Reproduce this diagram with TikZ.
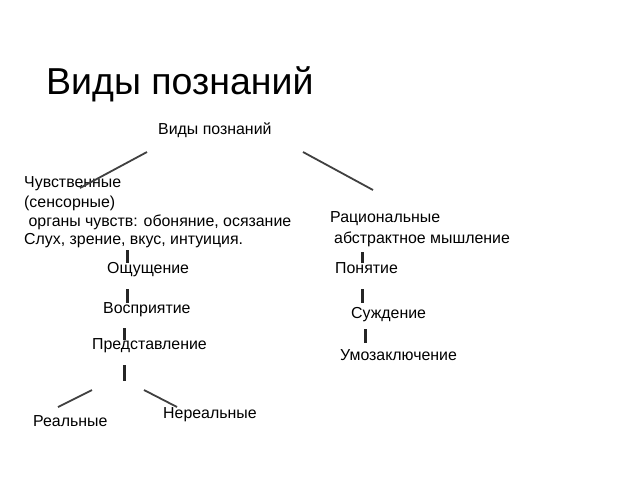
\documentclass[tikz,border=0pt]{standalone}
\usepackage{fontspec}
\setmainfont{Liberation Sans}
\begin{document}
\begin{tikzpicture}[x=1pt,y=-1pt,
  lbl/.style={anchor=west,inner sep=0pt,font=\fontsize{15.9}{18}\selectfont,text=black},
  ttl/.style={anchor=west,inner sep=0pt,font=\fontsize{37.5}{42}\selectfont,text=black},
  branch/.style={draw=black!75,line width=1.8pt},
  tick/.style={draw=black!85,line width=3pt}]
\useasboundingbox (0,0) rectangle (640,480);
\fill[white] (0,0) rectangle (640,480);
% title
\node[ttl] (title) at (46,84) {Виды познаний};
\node[lbl] (root) at (158,130) {Виды познаний};
% left branch
\node[lbl] (l1) at (24,184) {Чувственные};
\node[lbl] (l2) at (24,203) {(сенсорные)};
\node[lbl] (l3) at (24,222) {\ органы чувств: обоняние, осязание};
\node[lbl] (l4) at (24,241) {Слух, зрение, вкус, интуиция.};
\node[lbl] (s1) at (107,270) {Ощущение};
\node[lbl] (s2) at (103,310) {Восприятие};
\node[lbl] (s3) at (92,346) {Представление};
\node[lbl] (s4) at (33,421) {Реальные};
\node[lbl] (s5) at (163,415) {Нереальные};
% right branch
\node[lbl] (r1) at (330,219) {Рациональные};
\node[lbl] (r2) at (334,239) {абстрактное мышление};
\node[lbl] (r3) at (335,268) {Понятие};
\node[lbl] (r4) at (351,315) {Суждение};
\node[lbl] (r5) at (340,355) {Умозаключение};
% connector end points
\coordinate (aL) at (147,152); \coordinate (bL) at (80,188);
\coordinate (aR) at (303,152); \coordinate (bR) at (373,190);
\coordinate (t1a) at (127,250); \coordinate (t1b) at (127,263);
\coordinate (t2a) at (127,289); \coordinate (t2b) at (127,303);
\coordinate (t3a) at (124,328); \coordinate (t3b) at (124,340);
\coordinate (t4a) at (124,365); \coordinate (t4b) at (124,381);
\coordinate (dLa) at (92,390); \coordinate (dLb) at (58,407);
\coordinate (dRa) at (144,390); \coordinate (dRb) at (177,407);
\coordinate (u1a) at (362,252); \coordinate (u1b) at (362,263);
\coordinate (u2a) at (362,289); \coordinate (u2b) at (362,303);
\coordinate (u3a) at (365,329); \coordinate (u3b) at (365,343);
\draw[branch] (aL) -- (bL);
\draw[branch] (aR) -- (bR);
\draw[branch] (dLa) -- (dLb);
\draw[branch] (dRa) -- (dRb);
\draw[tick] (t1a) -- (t1b);
\draw[tick] (t2a) -- (t2b);
\draw[tick] (t3a) -- (t3b);
\draw[tick] (t4a) -- (t4b);
\draw[tick] (u1a) -- (u1b);
\draw[tick] (u2a) -- (u2b);
\draw[tick] (u3a) -- (u3b);
\end{tikzpicture}
\end{document}
